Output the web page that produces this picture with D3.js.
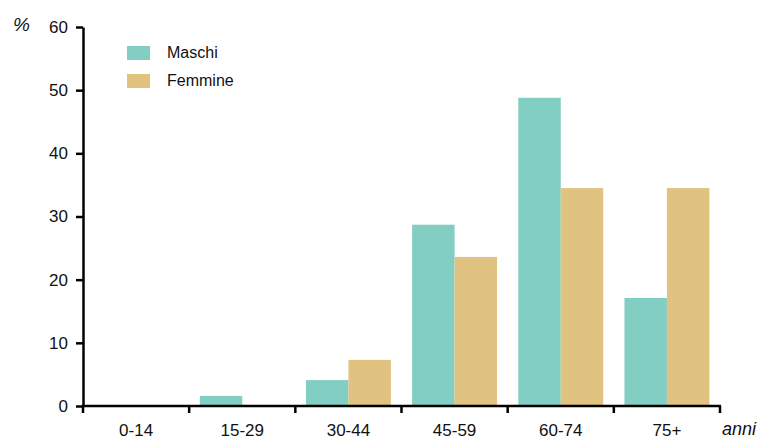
<!DOCTYPE html>
<html>
<head>
<meta charset="utf-8">
<script src="https://cdn.jsdelivr.net/npm/d3@7"></script>
<style>
  body { margin: 0; background: #fff; }
  text { font-family: "Liberation Sans", Arial, sans-serif; fill: #111; }
</style>
</head>
<body>
<svg id="chart" width="761" height="439"></svg>
<script>
const categories = ["0-14", "15-29", "30-44", "45-59", "60-74", "75+"];
const seriesNames = ["Maschi", "Femmine"];
const maschi = [0, 1.6, 4.1, 28.7, 48.8, 17.1];
const femmine = [0, 0, 7.3, 23.6, 34.5, 34.5];
const yTicks = [0, 10, 20, 30, 40, 50, 60];
const colors = ["#82cec2", "#e0c380"];

const svg = d3.select("#chart");
const x0 = 83, x1r = 720, yBottom = 406, yTop = 27;

const x = d3.scaleBand().domain(categories).range([x0, x1r]).paddingInner(0.2).paddingOuter(0.1);
const xs = d3.scaleBand().domain(seriesNames).range([0, x.bandwidth()]).padding(0);
const y = d3.scaleLinear().domain([0, 60]).range([yBottom, yTop]);
const color = d3.scaleOrdinal().domain(seriesNames).range(colors);

const data = categories.map((c, i) => ({cat: c, values: [
  {s: "Maschi", v: maschi[i]}, {s: "Femmine", v: femmine[i]}]}));

// bars
const g = svg.append("g");
g.selectAll("g.cat").data(data).join("g")
  .attr("transform", d => `translate(${x(d.cat)},0)`)
  .selectAll("rect").data(d => d.values).join("rect")
  .attr("x", d => xs(d.s))
  .attr("width", xs.bandwidth())
  .attr("y", d => y(d.v))
  .attr("height", d => y(0) - y(d.v))
  .attr("fill", d => color(d.s));

// y axis
const yAxis = svg.append("g").attr("transform", `translate(${x0},0)`)
  .call(d3.axisLeft(y).tickValues(yTicks).tickSize(7).tickPadding(8).tickSizeOuter(0));
yAxis.select(".domain").attr("stroke", "#000").attr("stroke-width", 2.5);
yAxis.selectAll(".tick line").attr("stroke", "#000").attr("stroke-width", 2.5);
yAxis.selectAll(".tick text").attr("font-size", 17).attr("font-family", "Liberation Sans, Arial, sans-serif").attr("fill", "#111");

// x axis: line + boundary ticks + centered labels
const xAxis = svg.append("g").attr("transform", `translate(0,${yBottom})`);
xAxis.append("line").attr("x1", x0 - 1.25).attr("x2", x1r + 1).attr("y1", 0).attr("y2", 0)
  .attr("stroke", "#000").attr("stroke-width", 2.5);
const boundaries = d3.range(categories.length + 1).map(i => x.range()[0] + i * x.step());
xAxis.selectAll("line.tk").data(boundaries).join("line").attr("class", "tk")
  .attr("x1", d => d).attr("x2", d => d).attr("y1", 0).attr("y2", 7)
  .attr("stroke", "#000").attr("stroke-width", 2.5);
xAxis.selectAll("text.lbl").data(categories).join("text").attr("class", "lbl")
  .attr("x", d => x(d) + x.bandwidth() / 2)
  .attr("y", 30)
  .attr("text-anchor", "middle")
  .attr("font-size", 17)
  .text(d => d);

// axis titles
svg.append("text").attr("x", 13).attr("y", 31).attr("font-size", 19).attr("font-style", "italic").text("%");
svg.append("text").attr("x", 722).attr("y", 435).attr("font-size", 18).attr("font-style", "italic").text("anni");

// legend
const legend = svg.append("g");
seriesNames.forEach((s, i) => {
  legend.append("rect").attr("x", 127).attr("y", 46 + i * 28).attr("width", 23).attr("height", 14)
    .attr("fill", color(s));
  legend.append("text").attr("x", 167).attr("y", 58 + i * 28).attr("font-size", 16).text(s);
});
</script>
</body>
</html>
